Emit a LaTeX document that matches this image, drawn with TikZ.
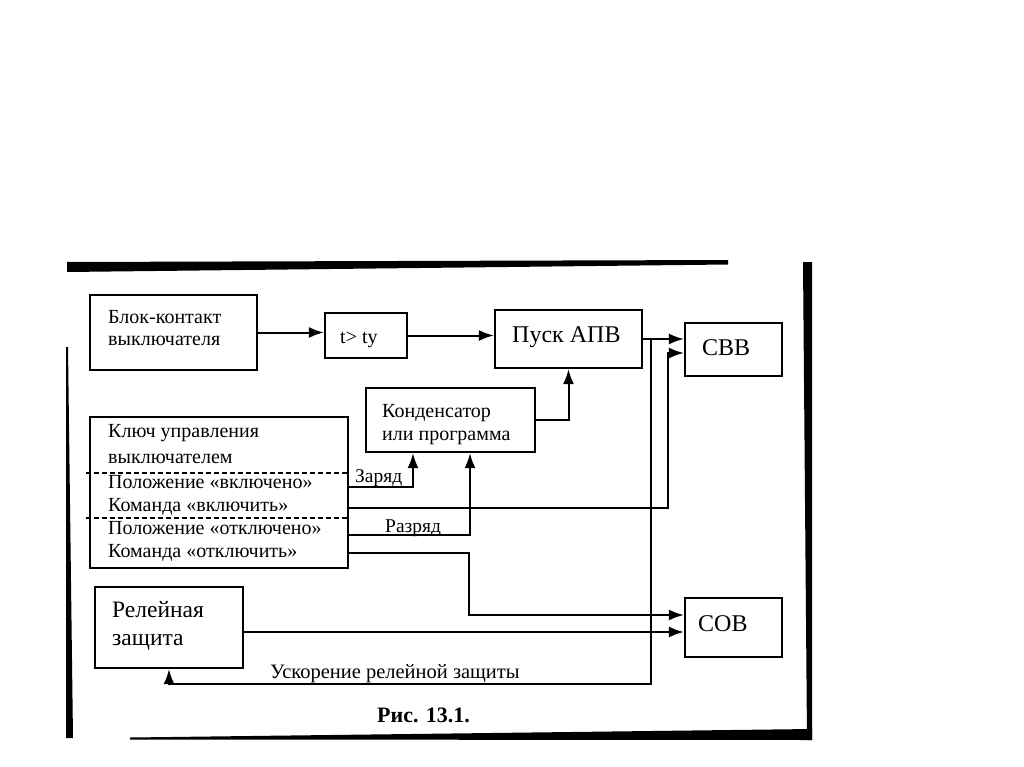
\documentclass[tikz,border=0pt]{standalone}
\usepackage{fontspec}
\setmainfont{Liberation Serif}
\usetikzlibrary{arrows.meta}
\begin{document}
\begin{tikzpicture}[x=1pt,y=-1pt,
  box/.style={draw=black, line width=2.2pt, rectangle, inner sep=0pt},
  arr/.style={draw=black, line width=2pt, -{Latex[length=15pt,width=11pt]}},
  txt/.style={anchor=base west, inner sep=0pt, text=black, font=\fontsize{20}{22}\selectfont},
  big/.style={txt, font=\fontsize{24}{26}\selectfont},
  small/.style={txt, font=\fontsize{19.5}{21}\selectfont},
  bar/.style={fill=black, draw=none}]
\useasboundingbox (0,0) rectangle (1024,767);
\fill[white] (0,0) rectangle (1024,767);
% frame bars
\fill[bar] (67,262) -- (728,260) -- (728,264.5) -- (67,272) -- cycle;
\fill[bar] (803,262) -- (812,262) -- (812,740) -- (807,740) -- cycle;
\fill[bar] (130,737.5) -- (812,729) -- (812,740) -- (130,739.5) -- cycle;
\fill[bar] (66,347) -- (68,347) -- (73,738) -- (66,738) -- cycle;
% boxes
\node[box, minimum width=167pt, minimum height=75pt] (bk) at (173.5,332.5) {};
\node[box, minimum width=82pt, minimum height=45pt] (td) at (366,335.5) {};
\node[box, minimum width=147pt, minimum height=58pt] (pusk) at (568.5,339) {};
\node[box, minimum width=97pt, minimum height=53pt] (svv) at (733.5,349.5) {};
\node[box, minimum width=169pt, minimum height=64pt] (kond) at (450.5,420) {};
\node[box, minimum width=258pt, minimum height=151pt] (key) at (219,492.5) {};
\node[box, minimum width=148pt, minimum height=81pt] (rel) at (169,627.5) {};
\node[box, minimum width=97pt, minimum height=59pt] (cob) at (733.5,627.5) {};
% texts
\node[txt] (tbk1) at (108,323) {Блок-контакт};
\node[txt] (tbk2) at (108,345) {выключателя};
\node[txt] (ttd) at (340,343) {t> ty};
\node[big] (tpusk) at (512,342) {Пуск АПВ};
\node[big] (tsvv) at (702,355) {СВВ};
\node[txt] (tk1) at (382,417) {Конденсатор};
\node[txt] (tk2) at (382,440) {или программа};
\node[txt] (tkey1) at (108,437) {Ключ управления};
\node[txt] (tkey2) at (108,463) {выключателем};
\node[txt] (tkey3) at (108,488) {Положение «включено»};
\node[txt] (tkey4) at (108,511) {Команда «включить»};
\node[txt] (tkey5) at (108,534) {Положение «отключено»};
\node[txt] (tkey6) at (108,557) {Команда «отключить»};
\node[txt, font=\fontsize{23.5}{25}\selectfont] (trel1) at (112,617) {Релейная};
\node[txt, font=\fontsize{23.5}{25}\selectfont] (trel2) at (112,645) {защита};
\node[big] (tcob) at (698,631) {СОВ};
\node[small] (lz) at (355,482) {Заряд};
\node[small] (lr) at (385,532) {Разряд};
\node[small, font=\fontsize{20.5}{22}\selectfont] (lu) at (270,678) {Ускорение релейной защиты};
\node[txt, font=\bfseries\fontsize{22}{24}\selectfont] (cap) at (377,722) {Рис. 13.1.};
% dashed separators
\coordinate (d1a) at (86,473); \coordinate (d1b) at (348,473);
\coordinate (d2a) at (86,518); \coordinate (d2b) at (348,518);
\draw[black, line width=1.4pt, dash pattern=on 5pt off 3pt] (d1a) -- (d1b);
\draw[black, line width=1.4pt, dash pattern=on 5pt off 3pt] (d2a) -- (d2b);
% connectors
\draw[arr] (bk.east) -- (bk.east -| td.west);
\draw[arr] (td.east) -- (td.east -| pusk.west);
\draw[arr] (pusk.east) -- (pusk.east -| svv.west);
\coordinate (j1) at (651,339);
\coordinate (j2) at (651,684);
\draw[arr] (j1) -- (j2) -| (rel.south);
\draw[arr] (kond.east) -| (pusk.south);
\coordinate (kOn) at (348,487);
\coordinate (kCmdOn) at (348,508);
\coordinate (kOff) at (348,535);
\coordinate (kCmdOff) at (348,553);
\coordinate (v1) at (668,508);
\draw[arr] (kOn) -| ([xshift=-37.5pt]kond.south);
\draw[arr] (kOff) -| ([xshift=19.5pt]kond.south);
\draw[arr] (kCmdOn) -- (v1) |- ([yshift=-3.5pt]svv.west);
\coordinate (v2) at (469,553);
\draw[arr] (kCmdOff) -- (v2) |- ([yshift=12.5pt]cob.west);
\draw[arr] ([yshift=-4.5pt]rel.east) -- ([yshift=-4.5pt]cob.west);
\end{tikzpicture}
\end{document}
